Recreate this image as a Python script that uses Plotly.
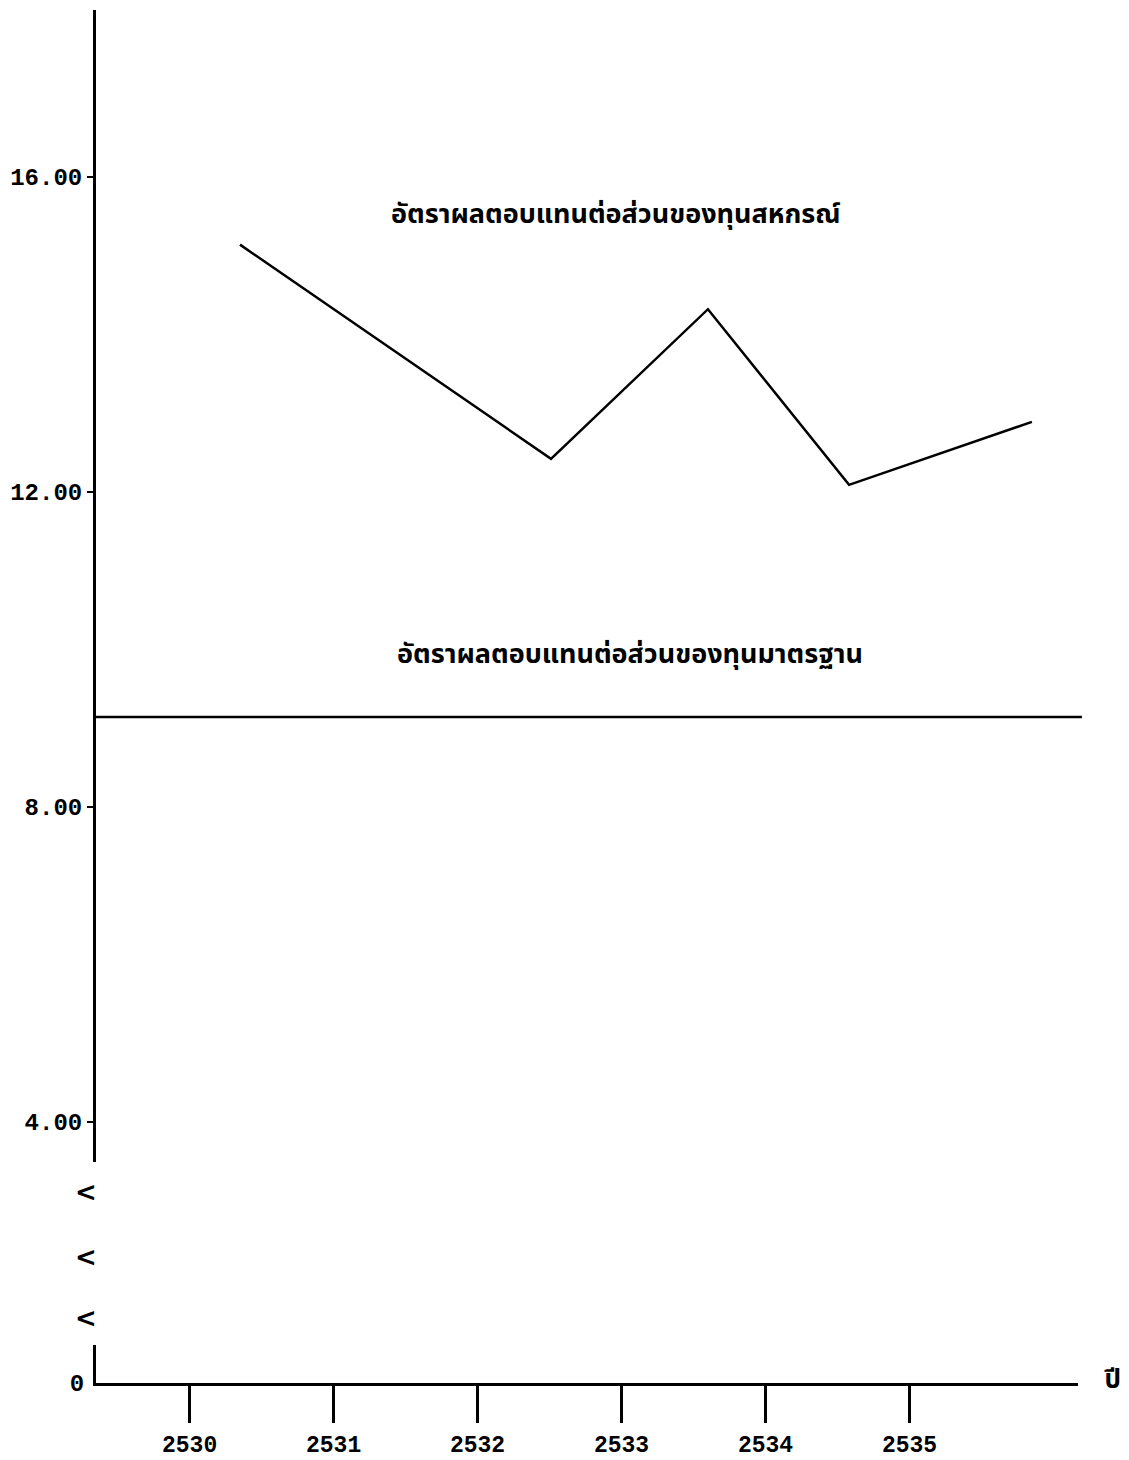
import plotly.graph_objects as go

# Data
years = [2530.35, 2532.51, 2533.60, 2534.58, 2535.85]
coop_rate = [15.14, 12.42, 14.32, 12.09, 12.89]
standard_rate = 9.14
xtick_vals = [2530, 2531, 2532, 2533, 2534, 2535]
xtick_text = ["2530", "2531", "2532", "2533", "2534", "2535"]
ytick_vals = [4, 8, 12, 16]
ytick_text = ["4.00", "8.00", "12.00", "16.00"]
label_coop = "อัตราผลตอบแทนต่อส่วนของทุนสหกรณ์"
label_std = "อัตราผลตอบแทนต่อส่วนของทุนมาตรฐาน"
x_title = "ปี"

OFF = 8  # browser body margin
W, H = 1121, 1452
ml, mr, mt, mb = 88, 51, 2, 77
pw = W - ml - mr
ph = H - mt - mb


def px_x(page_x):
    return (page_x - OFF - ml) / pw


def px_y(page_y):
    return (H - mb - (page_y - OFF)) / ph


dom1_low = px_y(1162)
dom2_high = px_y(1345)

thai_font = "Noto Sans Thai, Loma, Garuda, Noto Sans, DejaVu Sans, sans-serif"
num_family = "Liberation Mono, DejaVu Sans Mono, monospace"

fig = go.Figure()
fig.add_trace(go.Scatter(x=years, y=coop_rate, mode="lines",
                         line=dict(color="black", width=2.5),
                         xaxis="x", yaxis="y", showlegend=False, hoverinfo="skip"))
# empty trace so the lower (zero) axis segment exists
fig.add_trace(go.Scatter(x=[], y=[], mode="lines", xaxis="x", yaxis="y2",
                         showlegend=False, hoverinfo="skip"))

fig.add_shape(type="line", xref="x domain", yref="y", x0=0, x1=1.004,
              y0=standard_rate, y1=standard_rate,
              line=dict(color="black", width=2.5))

fig.add_annotation(x=2532.96, y=15.52, xref="x", yref="y", text="<b>" + label_coop + "</b>",
                   showarrow=False, font=dict(family=thai_font, size=27, color="black"))
fig.add_annotation(x=2533.06, y=9.93, xref="x", yref="y", text="<b>" + label_std + "</b>",
                   showarrow=False, font=dict(family=thai_font, size=27, color="black"))

# axis break marks
for ypx in [1192, 1257, 1318]:
    fig.add_annotation(x=px_x(86), y=px_y(ypx), xref="paper", yref="paper",
                       xanchor="center", yanchor="middle", text="<b>&lt;</b>",
                       showarrow=False, font=dict(family="DejaVu Sans", size=26, color="black"))

fig.add_annotation(x=px_x(1112), y=px_y(1380), xref="paper", yref="paper",
                   xanchor="center", yanchor="middle",
                   text="<b>" + x_title + "</b>", showarrow=False,
                   font=dict(family=thai_font, size=26, color="black"))

fig.update_layout(
    width=W, height=H,
    margin=dict(l=ml, r=mr, t=mt, b=mb, autoexpand=False),
    paper_bgcolor="white", plot_bgcolor="white",
    xaxis=dict(range=[2529.35, 2536.17], anchor="y2", tickmode="array",
               tickvals=xtick_vals, ticktext=xtick_text, ticks="outside",
               ticklen=37, tickwidth=2.5, tickcolor="black", showline=True,
               linecolor="black", linewidth=3, showgrid=False, zeroline=False,
               tickfont=dict(family=num_family, size=23, color="black", weight="bold"),
               ticklabelstandoff=1),
    yaxis=dict(domain=[dom1_low, 1], range=[3.49, 18.12], anchor="x",
               tickmode="array", tickvals=ytick_vals, ticktext=ytick_text,
               ticks="outside", ticklen=6, tickwidth=2, tickcolor="black",
               showline=True, linecolor="black", linewidth=3, showgrid=False,
               zeroline=False,
               tickfont=dict(family=num_family, size=24, color="black", weight="bold")),
    yaxis2=dict(domain=[0, dom2_high], range=[0, 0.5], anchor="x",
                tickmode="array", tickvals=[0], ticktext=["0"], ticks="",
                showline=True, linecolor="black", linewidth=3, showgrid=False,
                zeroline=False, ticklabelstandoff=4,
                tickfont=dict(family=num_family, size=24, color="black", weight="bold")),
)

fig.write_html("out.html")
